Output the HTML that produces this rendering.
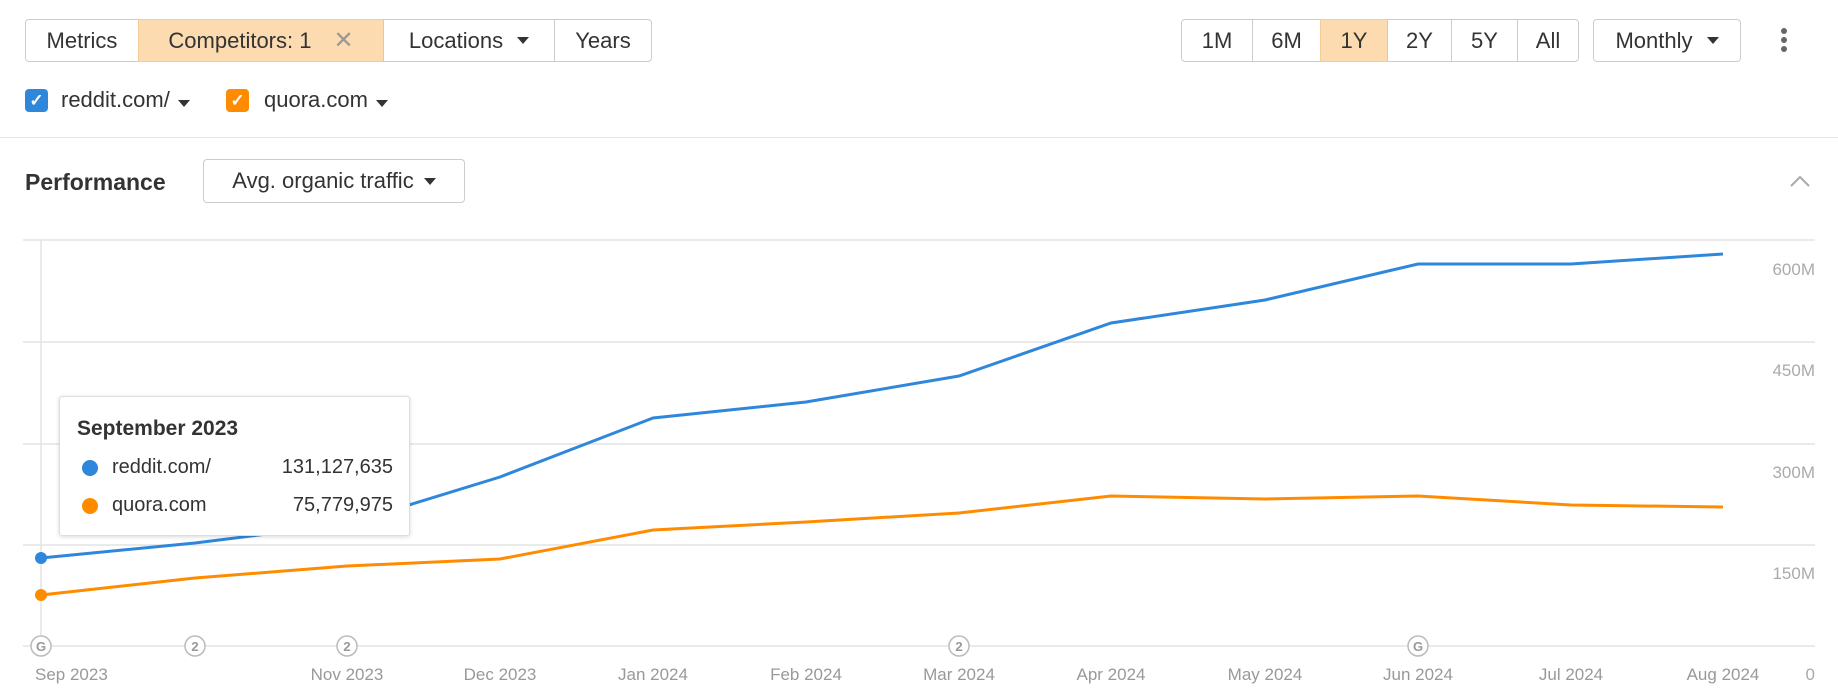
<!DOCTYPE html>
<html><head><meta charset="utf-8"><style>
body{margin:0;width:1838px;height:696px;background:#fff;font-family:"Liberation Sans",sans-serif;color:#333;position:relative;overflow:hidden}
.b{position:absolute;top:19px;height:43px;border:1px solid #ccc;box-sizing:border-box;display:flex;align-items:center;justify-content:center;font-size:22px;color:#333;background:#fff}
.tri{display:inline-block;width:0;height:0;border-left:6px solid transparent;border-right:6px solid transparent;border-top:7px solid #333;margin-left:14px}
.cb{position:absolute;top:89px;width:23px;height:23px;border-radius:4px;color:#fff;font-size:17px;text-align:center;line-height:23px;font-weight:bold}
.t{position:absolute;font-size:22px}
</style></head><body>
<div class="b" style="left:25px;width:114px;border-radius:4px 0 0 4px">Metrics</div>
<div class="b" style="left:138px;width:246px;background:#fddbb0;border-color:#f5cc98">Competitors: 1<span style="color:#999;margin-left:22px;font-size:24px">✕</span></div>
<div class="b" style="left:383px;width:172px">Locations<span class="tri"></span></div>
<div class="b" style="left:554px;width:98px;border-radius:0 4px 4px 0">Years</div>
<div class="b" style="left:1181px;width:72px;border-radius:4px 0 0 4px">1M</div>
<div class="b" style="left:1252px;width:69px">6M</div>
<div class="b" style="left:1320px;width:68px;background:#fddbb0;border-color:#f5cc98">1Y</div>
<div class="b" style="left:1387px;width:65px">2Y</div>
<div class="b" style="left:1451px;width:67px">5Y</div>
<div class="b" style="left:1517px;width:62px;border-radius:0 4px 4px 0">All</div>
<div class="b" style="left:1593px;width:148px;border-radius:4px">Monthly<span class="tri"></span></div>
<div style="position:absolute;left:1781px;top:28px;width:6px">
<div style="width:6px;height:6px;border-radius:3px;background:#666;margin-bottom:3px"></div><div style="width:6px;height:6px;border-radius:3px;background:#666;margin-bottom:3px"></div><div style="width:6px;height:6px;border-radius:3px;background:#666"></div></div>
<div class="cb" style="left:25px;background:#2f87dc">✓</div>
<div class="t" style="left:61px;top:87px">reddit.com/<span class="tri" style="margin-left:8px"></span></div>
<div class="cb" style="left:226px;background:#ff8c00">✓</div>
<div class="t" style="left:264px;top:87px">quora.com<span class="tri" style="margin-left:8px"></span></div>
<div style="position:absolute;left:0;top:137px;width:1838px;height:1px;background:#e6e6e6"></div>
<div class="t" style="left:25px;top:169px;font-weight:bold;font-size:23px">Performance</div>
<div class="b" style="left:203px;top:159px;width:262px;height:44px;border-radius:4px">Avg. organic traffic<span class="tri" style="margin-left:10px"></span></div>
<svg style="position:absolute;left:0;top:0" width="1838" height="696">
<polyline points="1791,186 1800,177 1809,186" fill="none" stroke="#aaa" stroke-width="2"/>
<g stroke="#e4e4e4" stroke-width="1.5">
<line x1="23" x2="1815" y1="240" y2="240"/><line x1="23" x2="1815" y1="342" y2="342"/><line x1="23" x2="1815" y1="444" y2="444"/><line x1="23" x2="1815" y1="545" y2="545"/><line x1="23" x2="1815" y1="646" y2="646"/>
<line x1="41" x2="41" y1="240" y2="646"/></g>
<g fill="#aaa" font-size="17" text-anchor="end" font-family="Liberation Sans">
<text x="1815" y="275">600M</text><text x="1815" y="376">450M</text><text x="1815" y="478">300M</text><text x="1815" y="579">150M</text><text x="1815" y="680">0</text></g>
<g fill="#999" font-size="17" text-anchor="middle" font-family="Liberation Sans">
<text x="41" y="680" text-anchor="start" dx="-6">Sep 2023</text><text x="347" y="680">Nov 2023</text><text x="500" y="680">Dec 2023</text><text x="653" y="680">Jan 2024</text><text x="806" y="680">Feb 2024</text><text x="959" y="680">Mar 2024</text><text x="1111" y="680">Apr 2024</text><text x="1265" y="680">May 2024</text><text x="1418" y="680">Jun 2024</text><text x="1571" y="680">Jul 2024</text><text x="1723" y="680">Aug 2024</text></g>
<polyline fill="none" stroke="#2f87dc" stroke-width="3" points="41,558 195,543 347,524 500,477 653,418 806,402 959,376 1111,323 1265,300 1418,264 1571,264 1723,254"/>
<polyline fill="none" stroke="#ff8c00" stroke-width="3" points="41,595 195,578 347,566 500,559 653,530 806,522 959,513 1111,496 1265,499 1418,496 1571,505 1723,507"/>
<circle cx="41" cy="558" r="6" fill="#2f87dc"/><circle cx="41" cy="595" r="6" fill="#ff8c00"/>
<g fill="#fff" stroke="#bbb" stroke-width="1.5" font-size="13" font-family="Liberation Sans" font-weight="bold">
<circle cx="41" cy="646" r="10"/><circle cx="195" cy="646" r="10"/><circle cx="347" cy="646" r="10"/><circle cx="959" cy="646" r="10"/><circle cx="1418" cy="646" r="10"/></g>
<g fill="#999" font-size="13" font-weight="bold" text-anchor="middle" font-family="Liberation Sans">
<text x="41" y="651">G</text><text x="195" y="651">2</text><text x="347" y="651">2</text><text x="959" y="651">2</text><text x="1418" y="651">G</text></g>
</svg>
<div style="position:absolute;left:59px;top:396px;width:351px;height:140px;background:#fff;border:1px solid #ddd;border-radius:3px;box-shadow:0 1px 4px rgba(0,0,0,.15);box-sizing:border-box">
<div style="position:absolute;left:17px;top:20px;font-weight:bold;font-size:21px">September 2023</div>
<div style="position:absolute;left:22px;top:63px;width:16px;height:16px;border-radius:8px;background:#2f87dc"></div>
<div style="position:absolute;left:52px;top:59px;font-size:20px">reddit.com/</div>
<div style="position:absolute;right:16px;top:59px;font-size:20px">131,127,635</div>
<div style="position:absolute;left:22px;top:101px;width:16px;height:16px;border-radius:8px;background:#ff8c00"></div>
<div style="position:absolute;left:52px;top:97px;font-size:20px">quora.com</div>
<div style="position:absolute;right:16px;top:97px;font-size:20px">75,779,975</div>
</div>
</body></html>
